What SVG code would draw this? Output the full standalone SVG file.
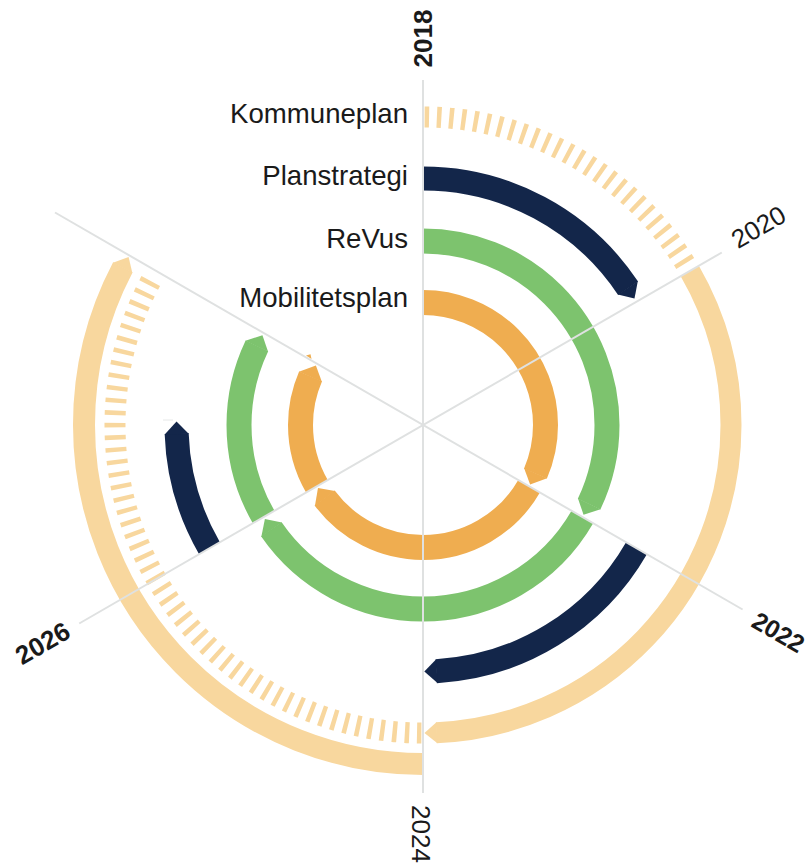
<svg xmlns="http://www.w3.org/2000/svg" width="812" height="865" viewBox="0 0 812 865">
<style>
.band{fill:none;stroke-linecap:butt}
.o{stroke:#EFAD50}.of{fill:#EFAD50}
.g{stroke:#7DC36E}.gf{fill:#7DC36E}
.n{stroke:#13264A}.nf{fill:#13264A}
.l{stroke:#F8D79E}.lf{fill:#F8D79E}
.ax{stroke:#DFE1E1;stroke-width:2;fill:none}
.lbl{font-family:"Liberation Sans",Arial,sans-serif;font-size:27.6px;fill:#1a1a1a}
.yr{font-family:"Liberation Sans",Arial,sans-serif;font-size:26px;fill:#1a1a1a;text-anchor:middle}
.b{font-weight:bold}
</style>
<rect width="812" height="865" fill="#ffffff"/>

<g id="kommuneplan">
  <path class="band l" stroke-width="21" stroke-dasharray="4.5 7.8" d="M 424.61 117 A 308 308 0 0 1 685.61 264.07"/>
  <circle class="band l" cx="423" cy="425" r="308" stroke-width="21" pathLength="360" transform="rotate(-90 423 425)" stroke-dasharray="0 60 117.5 720"/>
  <polygon class="lf" transform="rotate(177.5 423 425)" points="422.5,106.5 435,117.2 422.5,127.5"/>
  <path class="band l" stroke-width="21" stroke-dasharray="4.5 7.8" d="M 421.39 733 A 308 308 0 0 1 152.32 278.03"/>
  <circle class="band l" cx="423" cy="425" r="339" stroke-width="22" pathLength="360" transform="rotate(-90 423 425)" stroke-dasharray="0 180 117.7 720"/>
  <polygon class="lf" transform="rotate(297.7 423 425)" points="422.5,75 435,86.2 422.5,97"/>
</g>

<g id="planstrategi">
  <circle class="band n" cx="423" cy="425" r="246.5" stroke-width="24" pathLength="360" transform="rotate(-90 423 425)" stroke-dasharray="56.3 720"/>
  <polygon class="nf" transform="rotate(56.3 423 425)" points="422.5,166.5 435,178.8 422.5,190.5"/>
  <circle class="band n" cx="423" cy="425" r="246.5" stroke-width="24" pathLength="360" transform="rotate(-90 423 425)" stroke-dasharray="0 120 56.9 720"/>
  <polygon class="nf" transform="rotate(176.9 423 425)" points="422.5,166.5 435,178.8 422.5,190.5"/>
  <circle class="band n" cx="423" cy="425" r="246.5" stroke-width="24" pathLength="360" transform="rotate(-90 423 425)" stroke-dasharray="0 240 28 720"/>
  <polygon class="nf" transform="rotate(268 423 425)" points="422.5,166.5 435,178.8 422.5,190.5"/>
  <line x1="163" y1="420" x2="173" y2="420" stroke="#E6E8E8" stroke-width="1"/>
</g>

<g id="revus">
  <circle class="band g" cx="423" cy="425" r="184" stroke-width="25" pathLength="360" transform="rotate(-90 423 425)" stroke-dasharray="115.5 720"/>
  <polygon class="gf" transform="rotate(115.5 423 425)" points="422.5,228.5 435,241.4 422.5,253.5"/>
  <circle class="band g" cx="423" cy="425" r="184" stroke-width="25" pathLength="360" transform="rotate(-90 423 425)" stroke-dasharray="0 120 115.5 720"/>
  <polygon class="gf" transform="rotate(235.5 423 425)" points="422.5,228.5 435,241.4 422.5,253.5"/>
  <circle class="band g" cx="423" cy="425" r="184" stroke-width="25" pathLength="360" transform="rotate(-90 423 425)" stroke-dasharray="0 240 55.5 720"/>
  <polygon class="gf" transform="rotate(295.5 423 425)" points="422.5,228.5 435,241.4 422.5,253.5"/>
</g>

<g id="mobilitetsplan">
  <circle class="band o" cx="423" cy="425" r="122.5" stroke-width="25" pathLength="360" transform="rotate(-90 423 425)" stroke-dasharray="113.4 720"/>
  <polygon class="of" transform="rotate(113.4 423 425)" points="422.5,290 435,303.1 422.5,315"/>
  <circle class="band o" cx="423" cy="425" r="122.5" stroke-width="25" pathLength="360" transform="rotate(-90 423 425)" stroke-dasharray="0 120 113.4 720"/>
  <polygon class="of" transform="rotate(233.4 423 425)" points="422.5,290 435,303.1 422.5,315"/>
  <circle class="band o" cx="423" cy="425" r="122.5" stroke-width="25" pathLength="360" transform="rotate(-90 423 425)" stroke-dasharray="0 240 53.4 720"/>
  <polygon class="of" transform="rotate(293.4 423 425)" points="422.5,290 435,303.1 422.5,315"/>
  <polygon class="of" points="306,355.5 310.5,354.3 311.5,359"/>
</g>

<g id="axes">
  <line class="ax" x1="423" y1="80" x2="423" y2="793"/>
  <line class="ax" x1="721.8" y1="252.5" x2="79.2" y2="623.5"/>
  <line class="ax" x1="55" y1="212.5" x2="742.6" y2="609.5"/>
</g>

<g id="labels">
  <text class="lbl" x="408" y="123" text-anchor="end">Kommuneplan</text>
  <text class="lbl" x="408" y="185" text-anchor="end">Planstrategi</text>
  <text class="lbl" x="408" y="248" text-anchor="end">ReVus</text>
  <text class="lbl" x="408" y="307" text-anchor="end">Mobilitetsplan</text>
</g>

<g id="years">
  <text class="yr b" transform="translate(422.5,38.5) rotate(-90)" x="0" y="9.3">2018</text>
  <text class="yr" transform="translate(758.3,226.7) rotate(-30)" x="0" y="9.3">2020</text>
  <text class="yr b" transform="translate(778.5,632) rotate(30)" x="0" y="9" style="font-size:25px">2022</text>
  <text class="yr" transform="translate(421.7,834) rotate(90)" x="0" y="9.3">2024</text>
  <text class="yr b" transform="translate(42.5,643) rotate(-30)" x="0" y="9.3">2026</text>
</g>
</svg>
